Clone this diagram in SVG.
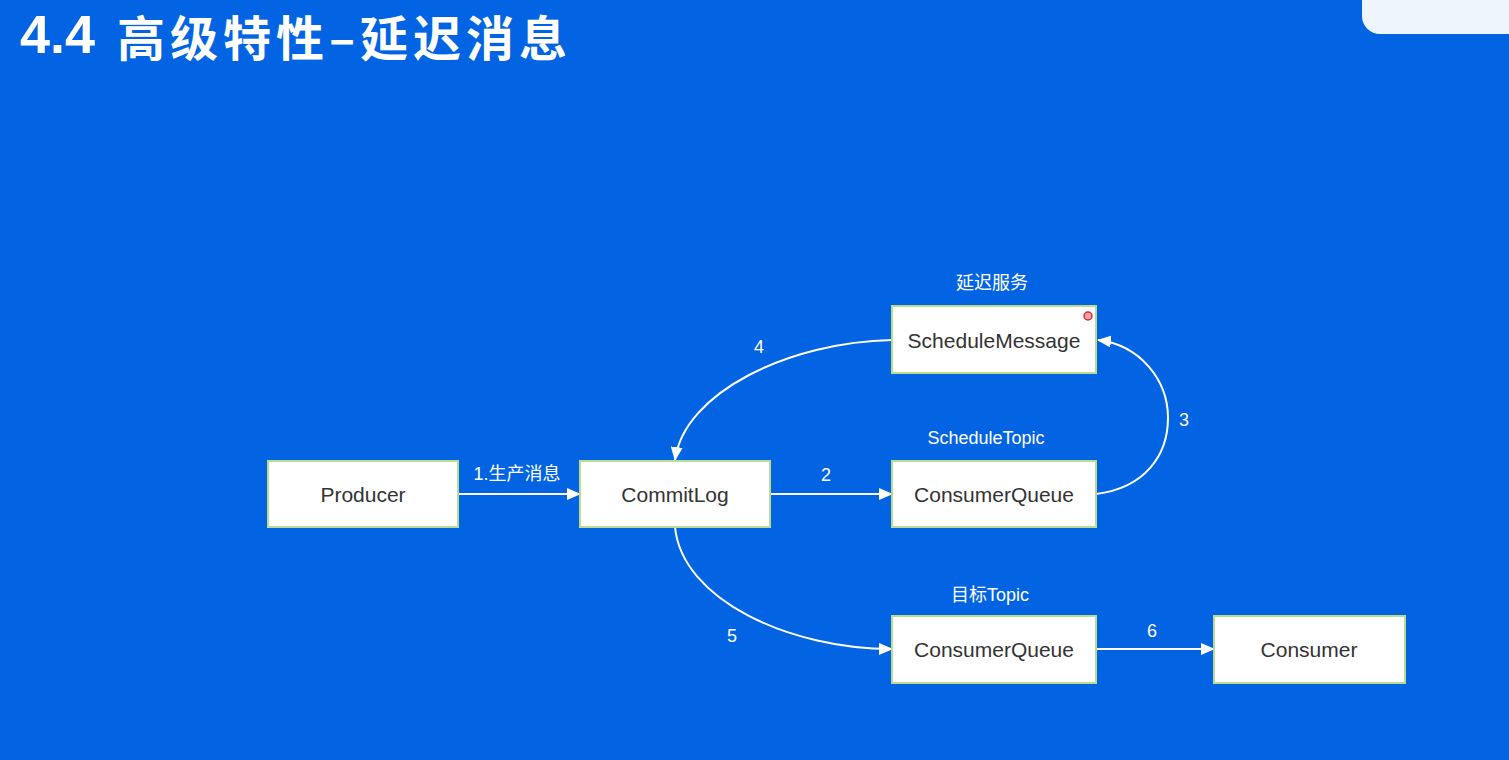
<svg xmlns="http://www.w3.org/2000/svg" width="1509" height="760" viewBox="0 0 1509 760">
<defs>
<style>
.node rect{fill:#ffffff;stroke:#b9dc8e;stroke-width:2}
.node text{font-family:"Liberation Sans","Noto Sans",sans-serif;font-size:21px;fill:#333333;text-anchor:middle;dominant-baseline:central}
.lbl{font-family:"Liberation Sans","Noto Sans CJK SC",sans-serif;font-size:18px;fill:#ffffff;text-anchor:middle}
.conn path{fill:none;stroke:#ffffff;stroke-width:2}
</style>
<marker id="ah" viewBox="0 0 14 12" refX="13" refY="6" markerWidth="14" markerHeight="12" markerUnits="userSpaceOnUse" orient="auto">
<path d="M0,0 L14,6 L0,12 Z" fill="#ffffff"/>
</marker>
</defs>
<rect x="0" y="0" width="1509" height="760" fill="#0364E3"/>
<rect x="1362" y="-30" width="180" height="64" rx="18" fill="#eef6fb"/>
<g id="title">
<text x="20" y="53" font-family="Liberation Sans,Noto Sans,sans-serif" font-weight="bold" font-size="54" fill="#ffffff">4.4</text>
<text x="117" y="56" font-family="Noto Sans CJK SC,Noto Sans,sans-serif" font-weight="bold" font-size="48" letter-spacing="5" fill="#ffffff">高级特性–延迟消息</text>
</g>

<g class="conn">
<path d="M458,494 L580,494" marker-end="url(#ah)"/>
<path d="M770,494 L892,494" marker-end="url(#ah)"/>
<path d="M1096,494 C1145,488 1168,455 1168,418 C1168,380 1140,345 1098,340" marker-end="url(#ah)"/>
<path d="M892,340 C790,342 684,392 675,460" marker-end="url(#ah)"/>
<path d="M675,527 C682,600 790,649 892,649" marker-end="url(#ah)"/>
<path d="M1096,649 L1214,649" marker-end="url(#ah)"/>
</g>

<g id="lbl-produce"><text class="lbl" x="517" y="480">1.生产消息</text></g>
<g id="lbl-2"><text class="lbl" x="826" y="481">2</text></g>
<g id="lbl-3"><text class="lbl" x="1184" y="426">3</text></g>
<g id="lbl-4"><text class="lbl" x="759" y="353">4</text></g>
<g id="lbl-5"><text class="lbl" x="732" y="642">5</text></g>
<g id="lbl-6"><text class="lbl" x="1152" y="637">6</text></g>
<g id="lbl-delay"><text class="lbl" x="992" y="289">延迟服务</text></g>
<g id="lbl-scheduletopic"><text class="lbl" x="986" y="444">ScheduleTopic</text></g>
<g id="lbl-targettopic"><text class="lbl" x="990" y="601">目标Topic</text></g>

<g id="producer" class="node"><rect x="268" y="461" width="190" height="66"/><text x="363" y="494">Producer</text></g>
<g id="commitlog" class="node"><rect x="580" y="461" width="190" height="66"/><text x="675" y="494">CommitLog</text></g>
<g id="schedule-cq" class="node"><rect x="892" y="461" width="204" height="66"/><text x="994" y="494">ConsumerQueue</text></g>
<g id="schedulemessage" class="node"><rect x="892" y="306" width="204" height="67"/><text x="994" y="340">ScheduleMessage</text></g>
<g id="target-cq" class="node"><rect x="892" y="616" width="204" height="67"/><text x="994" y="649">ConsumerQueue</text></g>
<g id="consumer" class="node"><rect x="1214" y="616" width="191" height="67"/><text x="1309" y="649">Consumer</text></g>
<circle cx="1088" cy="316" r="4" fill="#f7a5a5" stroke="#e0283a" stroke-width="1.5"/>
</svg>
